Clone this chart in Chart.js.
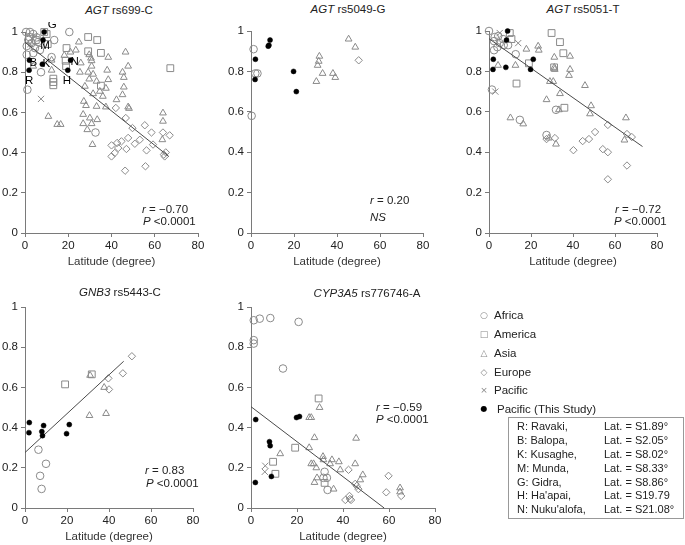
<!DOCTYPE html>
<html>
<head>
<meta charset="utf-8">
<script src="https://cdn.jsdelivr.net/npm/chart.js@4.4.1/dist/chart.umd.min.js"></script>
<style>
  body { margin: 0; background: #fff; }
  #wrap { position: relative; width: 685px; height: 545px; overflow: hidden; background: #fff;
          font-family: 'Liberation Sans', Arial, sans-serif; font-size: 11.5px; color: #222; }
  canvas { position: absolute; }
  .t { position: absolute; line-height: 14px; white-space: nowrap; }
  .c { transform: translateX(-50%); }
  .sym { position: absolute; width: 12px; text-align: center; line-height: 14px; color: #8a8a8a;
         font-family: 'DejaVu Sans', sans-serif; font-size: 9px; }
  #box { position: absolute; left: 508px; top: 417px; width: 176px; height: 102px; border: 1px solid #999;
         font-size: 11px; line-height: 13.9px; padding-top: 2px; box-sizing: border-box; color: #222; }
  #box div { position: relative; height: 13.9px; white-space: nowrap; }
  #box span { position: absolute; }
</style>
</head>
<body>
<div id="wrap">
  <canvas id="c1"></canvas>
  <canvas id="c2"></canvas>
  <canvas id="c3"></canvas>
  <canvas id="c4"></canvas>
  <canvas id="c5"></canvas>

  <div class="t c" style="left:119px;top:3px"><i>AGT</i> rs699-C</div>
  <div class="t c" style="left:348px;top:2px"><i>AGT</i> rs5049-G</div>
  <div class="t c" style="left:583px;top:2px"><i>AGT</i> rs5051-T</div>
  <div class="t c" style="left:120px;top:285px"><i>GNB3</i> rs5443-C</div>
  <div class="t c" style="left:367px;top:286px"><i>CYP3A5</i> rs776746-A</div>

  <div class="t" style="left:142px;top:202px"><i>r</i> = −0.70</div>
  <div class="t" style="left:143px;top:214px"><i>P</i> &lt;0.0001</div>
  <div class="t" style="left:370px;top:193px"><i>r</i> = 0.20</div>
  <div class="t" style="left:370px;top:210px"><i>NS</i></div>
  <div class="t" style="left:615px;top:202px"><i>r</i> = −0.72</div>
  <div class="t" style="left:614px;top:214px"><i>P</i> &lt;0.0001</div>
  <div class="t" style="left:145px;top:463px"><i>r</i> = 0.83</div>
  <div class="t" style="left:146px;top:476px"><i>P</i> &lt;0.0001</div>
  <div class="t" style="left:376px;top:400px"><i>r</i> = −0.59</div>
  <div class="t" style="left:376px;top:412px"><i>P</i> &lt;0.0001</div>

  <div id="legend"></div>
  <div id="box"></div>
</div>

<script>
const xTicks = [0, 20, 40, 60, 80];
const yTicks = [0, 0.2, 0.4, 0.6, 0.8, 1];
const yTickLabels = ['0', '0.2', '0.4', '0.6', '0.8', '1'];

// Pacific (this study): latitude of each population, same order everywhere
const studyCodes = ['R', 'B', 'K', 'M', 'G', 'H', 'N'];
const studyNames = ['Ravaki,', 'Balopa,', 'Kusaghe,', 'Munda,', 'Gidra,', "Ha'apai,", "Nuku'alofa,"];
const studyLatText = ['S1.89°', 'S2.05°', 'S8.02°', 'S8.33°', 'S8.86°', 'S19.79', 'S21.08°'];
const studyLat = [1.89, 2.05, 8.02, 8.33, 8.86, 19.79, 21.08];

// AGT rs699-C  [latitude, frequency]
const p1Study = [0.81, 0.86, 0.84, 0.96, 1.0, 0.81, 0.86];
const p1Africa = [[0.5, 1.0], [2.3, 1.0], [3.8, 0.99], [1.5, 0.96], [3.1, 0.945], [0.8, 0.93], [4.6, 0.92],
  [3.8, 0.895], [0.8, 0.887], [6.9, 0.91], [5.4, 0.973], [13.5, 0.96], [12.3, 0.875], [20.5, 1.0],
  [7.4, 0.80], [1.1, 0.713], [32.6, 0.50], [2.0, 0.975], [6.0, 0.95]];
const p1America = [[8.9, 1.0], [10, 0.99], [19.2, 0.92], [29.2, 0.975], [33.4, 0.96], [29.2, 0.904],
  [35.1, 0.896], [18.8, 0.857], [13.1, 0.768], [13.1, 0.751], [13.1, 0.735], [67.2, 0.82], [35.1, 0.733],
  [5, 0.96], [10.5, 0.94], [19, 0.83]];
const p1Asia = [[24.9, 0.95], [23.5, 0.91], [18.2, 0.884], [12.3, 0.86], [12.3, 0.81], [3.8, 0.83], [10.8, 0.58],
  [14.9, 0.54], [16.5, 0.54], [25.8, 0.846], [25.4, 0.80], [29.7, 0.887], [30.8, 0.857], [30.8, 0.83],
  [29.2, 0.80], [31.5, 0.79], [29.7, 0.766], [33.1, 0.755], [27.7, 0.73], [34.6, 0.705], [31.5, 0.693],
  [27.2, 0.655], [28.2, 0.634], [33.1, 0.63], [37.4, 0.627], [26.9, 0.59], [30, 0.572], [33.4, 0.564],
  [26.9, 0.544], [28.8, 0.514], [30.8, 0.544], [31.2, 0.44], [38.5, 0.874], [38, 0.81], [38.5, 0.763],
  [37.4, 0.72], [42.3, 0.663], [45.1, 0.688], [46.5, 0.90], [47.7, 0.83], [45.1, 0.80], [45.7, 0.774],
  [45.7, 0.726], [47.7, 0.627], [48.1, 0.62], [63.8, 0.597], [63.8, 0.556], [63.5, 0.464], [21, 0.90],
  [30.5, 0.87], [36, 0.68]];
const p1Europe = [[42, 0.622], [46.6, 0.572], [49.7, 0.522], [55.4, 0.536], [58.5, 0.50], [53.1, 0.464],
  [63.8, 0.50], [66.9, 0.486], [59.2, 0.44], [40, 0.436], [43.1, 0.423], [44.6, 0.456], [47.7, 0.473],
  [50.8, 0.444], [56.2, 0.411], [41.5, 0.398], [40, 0.381], [46.3, 0.31], [55.7, 0.332], [64.2, 0.39],
  [64.6, 0.381], [65.1, 0.401], [46.9, 0.418], [42.6, 0.448]];
const p1Pacific = [[7.4, 0.667], [4.5, 0.98], [2.5, 0.94]];
const p1Fit = [[0, 0.949], [66.5, 0.381]];

// AGT rs5049-G
const p2Study = [0.76, 0.86, 0.925, 0.93, 0.955, 0.80, 0.70];
const p2Africa = [[1.2, 0.91], [2.0, 0.79], [3.0, 0.79], [0.3, 0.58]];
const p2America = [];
const p2Asia = [[31.8, 0.875], [31.5, 0.85], [31, 0.83], [33.3, 0.79], [38.1, 0.79], [39.2, 0.77],
  [30.4, 0.75], [45.4, 0.96], [48.5, 0.92]];
const p2Europe = [[50.1, 0.855]];
const p2Pacific = [];

// AGT rs5051-T
const p3Study = [0.81, 0.86, 0.82, 0.955, 1.0, 0.81, 0.86];
const p3Africa = [[0, 1.0], [2.7, 0.97], [4.4, 0.975], [2.4, 0.95], [9.1, 0.93], [12.7, 0.885], [1.4, 0.71],
  [2.4, 0.905], [5.1, 0.94], [6.7, 0.96], [14.7, 0.56], [27.4, 0.485], [31.9, 0.61], [4, 0.92], [7, 0.93]];
const p3America = [[9.9, 0.99], [10.7, 0.96], [29.8, 0.99], [33.8, 0.945], [35.4, 0.89], [13.1, 0.74],
  [35.9, 0.62], [31, 0.82], [19, 0.84]];
const p3Asia = [[23.4, 0.925], [17.8, 0.91], [23.7, 0.905], [12.6, 0.83], [4.3, 0.83], [31.1, 0.87],
  [31.1, 0.82], [31.3, 0.81], [38.6, 0.875], [38.6, 0.81], [38.1, 0.78], [29, 0.75], [30.6, 0.75],
  [27.4, 0.66], [33.8, 0.69], [33.3, 0.61], [45.7, 0.73], [48.6, 0.63], [48.1, 0.59], [10.2, 0.57],
  [16.3, 0.54], [31.9, 0.44], [65.2, 0.57], [64.5, 0.46], [28.5, 0.47]];
const p3Europe = [[27.4, 0.465], [31.4, 0.47], [40.2, 0.41], [44.6, 0.455], [47.6, 0.465], [50.5, 0.50],
  [54.2, 0.415], [56.6, 0.40], [56.6, 0.535], [65.7, 0.49], [68, 0.475], [65.7, 0.334], [56.6, 0.266]];
const p3Pacific = [[5.1, 0.99], [13.9, 0.94], [3.0, 0.70]];
const p3Fit = [[0, 0.962], [73.1, 0.428]];

// GNB3 rs5443-C
const p4Study = [0.375, 0.425, 0.38, 0.36, 0.41, 0.37, 0.415];
const p4Africa = [[6.4, 0.29], [10, 0.22], [7.2, 0.16], [7.9, 0.095]];
const p4America = [[19.1, 0.615], [31.8, 0.665]];
const p4Asia = [[31, 0.66], [30.7, 0.46], [38.6, 0.47], [37.7, 0.60]];
const p4Europe = [[39.7, 0.645], [40, 0.59], [46.6, 0.67], [50.9, 0.755]];
const p4Pacific = [];
const p4Fit = [[0, 0.276], [47, 0.73]];

// CYP3A5 rs776746-A
const p5Study = [0.127, 0.44, 0.33, 0.31, 0.157, 0.45, 0.455];
const p5Africa = [[1.2, 0.934], [3.8, 0.942], [8.4, 0.945], [20.7, 0.926], [1.2, 0.835], [1.2, 0.818],
  [13.9, 0.694], [32, 0.18], [31.5, 0.15], [33, 0.15], [33.3, 0.09]];
const p5America = [[29.4, 0.545], [19.2, 0.30], [9.6, 0.23], [10.6, 0.17], [32, 0.125]];
const p5Asia = [[29.8, 0.50], [25.3, 0.45], [26.2, 0.45], [27.6, 0.35], [12.7, 0.27], [25.3, 0.30],
  [26.2, 0.22], [27.2, 0.22], [28.4, 0.20], [31.3, 0.256], [31.5, 0.24], [35.2, 0.24], [34.4, 0.22],
  [38.2, 0.23], [38.8, 0.19], [35.9, 0.094], [27.6, 0.127], [28.7, 0.15], [45.7, 0.347], [45.3, 0.22],
  [48.6, 0.165], [47.5, 0.14], [64.8, 0.10], [64.8, 0.08]];
const p5Europe = [[42.4, 0.19], [45.3, 0.12], [46.7, 0.094], [42.8, 0.06], [41, 0.04], [43, 0.045],
  [43.5, 0.04], [59.8, 0.16], [58.8, 0.078], [65.3, 0.06], [46, 0.11]];
const p5Pacific = [[6.2, 0.21], [6.0, 0.18]];
const p5Fit = [[0, 0.504], [57.9, 0]];

const grey = '#8a8a8a';
const axisCol = '#7a7a7a';
const YW = 25, PT = 10, PR = 12, XH = 38;

const kinds = {
  africa:  { pointStyle: 'circle',   pointRadius: 3.8 },
  america: { pointStyle: 'rect',     pointRadius: 4.8 },
  asia:    { pointStyle: 'triangle', pointRadius: 3.9 },
  europe:  { pointStyle: 'rectRot',  pointRadius: 3.7 },
  pacific: { pointStyle: 'crossRot', pointRadius: 4.4 }
};

const toXY = arr => arr.map(p => ({ x: p[0], y: p[1] }));

function group(arr, kind) {
  return Object.assign({
    data: toXY(arr),
    pointBorderColor: grey,
    pointBackgroundColor: 'rgba(0,0,0,0)',
    pointBorderWidth: 1,
    clip: false
  }, kinds[kind]);
}

// draws the population code letters next to the study points
const codeLabels = {
  id: 'codeLabels',
  afterDatasetsDraw(chart, args, opts) {
    if (!opts.codes) return;
    const ctx = chart.ctx;
    const meta = chart.getDatasetMeta(0);
    ctx.save();
    ctx.font = "11.5px 'Liberation Sans', Arial, sans-serif";
    ctx.fillStyle = '#000';
    ctx.textAlign = 'center';
    ctx.textBaseline = 'middle';
    meta.data.forEach((pt, i) => {
      const o = opts.offsets[i];
      ctx.fillText(opts.codes[i], pt.x + o[0], pt.y + o[1]);
    });
    ctx.restore();
  }
};

function panel(id, frame, study, africa, america, asia, europe, pacific, fit, codes) {
  const canvas = document.getElementById(id);
  canvas.width = frame.x1 - frame.x0 + YW + PR;
  canvas.height = frame.y1 - frame.y0 + PT + XH;
  canvas.style.left = (frame.x0 - YW) + 'px';
  canvas.style.top = (frame.y0 - PT) + 'px';

  const datasets = [{
    data: study.map((v, i) => ({ x: studyLat[i], y: v })),
    pointStyle: 'circle', pointRadius: 2.5,
    pointBackgroundColor: '#000', pointBorderColor: '#000', pointBorderWidth: 0.5, clip: false
  }];
  if (fit) {
    datasets.push({ data: toXY(fit), showLine: true, pointRadius: 0, borderColor: '#4a4a4a', borderWidth: 1, clip: false });
  }
  datasets.push(group(africa, 'africa'), group(america, 'america'), group(asia, 'asia'),
    group(europe, 'europe'), group(pacific, 'pacific'));

  const axisFont = { family: "'Liberation Sans', Arial, sans-serif", size: 11.5 };

  new Chart(canvas, {
    type: 'scatter',
    data: { datasets },
    plugins: codes ? [codeLabels] : [],
    options: {
      responsive: false,
      animation: false,
      devicePixelRatio: 1,
      layout: { padding: { top: PT, right: PR, left: 0, bottom: 0 } },
      plugins: {
        legend: { display: false },
        tooltip: { enabled: false },
        codeLabels: codes || {}
      },
      scales: {
        x: {
          type: 'linear', min: 0, max: 80,
          afterBuildTicks: s => { s.ticks = xTicks.map(v => ({ value: v })); },
          afterFit: s => { s.height = XH; },
          border: { color: axisCol, width: 1 },
          grid: { drawOnChartArea: false, tickLength: 4, color: axisCol },
          ticks: { color: '#222', font: axisFont, padding: 2, maxRotation: 0, callback: v => String(v) },
          title: { display: true, text: 'Latitude (degree)', color: '#333', font: axisFont, padding: { top: 0, bottom: 2 } }
        },
        y: {
          type: 'linear', min: 0, max: 1,
          afterBuildTicks: s => { s.ticks = yTicks.map(v => ({ value: v })); },
          afterFit: s => { s.width = YW; },
          border: { color: axisCol, width: 1 },
          grid: { drawOnChartArea: false, tickLength: 4, color: axisCol },
          ticks: { color: '#222', font: axisFont, padding: 3, callback: (v, i) => yTickLabels[i] }
        }
      }
    }
  });
}

panel('c1', { x0: 25, x1: 198, y0: 32, y1: 233 }, p1Study, p1Africa, p1America, p1Asia, p1Europe, p1Pacific, p1Fit,
  { codes: studyCodes, offsets: [[0, 11], [4, 3], [4, 0], [2, 6], [8, -7], [-1, 11], [4, 2]] });
panel('c2', { x0: 251, x1: 423, y0: 31, y1: 233 }, p2Study, p2Africa, p2America, p2Asia, p2Europe, p2Pacific, null, null);
panel('c3', { x0: 489, x1: 657, y0: 31, y1: 233 }, p3Study, p3Africa, p3America, p3Asia, p3Europe, p3Pacific, p3Fit, null);
panel('c4', { x0: 25, x1: 193, y0: 307, y1: 508 }, p4Study, p4Africa, p4America, p4Asia, p4Europe, p4Pacific, p4Fit, null);
panel('c5', { x0: 251, x1: 435, y0: 307, y1: 508 }, p5Study, p5Africa, p5America, p5Asia, p5Europe, p5Pacific, p5Fit, null);

// legend
const legendNames = ['Africa', 'America', 'Asia', 'Europe', 'Pacific', 'Pacific (This Study)'];
const legendSyms = ['○', '□', '△', '◇', '×', '●'];
const legendY = [315, 334, 353, 372, 390, 409];
const legend = document.getElementById('legend');
legendNames.forEach((name, i) => {
  const s = document.createElement('div');
  s.className = 'sym';
  s.textContent = legendSyms[i];
  s.style.left = '478px';
  s.style.top = (legendY[i] - 7) + 'px';
  if (i === 5) { s.style.color = '#000'; s.style.fontSize = '8px'; }
  legend.appendChild(s);
  const t = document.createElement('div');
  t.className = 't';
  t.textContent = name;
  t.style.left = (i === 5 ? 497 : 494) + 'px';
  t.style.top = (legendY[i] - 7) + 'px';
  legend.appendChild(t);
});

// code box
const box = document.getElementById('box');
studyCodes.forEach((c, i) => {
  const row = document.createElement('div');
  const a = document.createElement('span');
  a.style.left = '8px';
  a.textContent = c + ': ' + studyNames[i];
  const b = document.createElement('span');
  b.style.left = '95px';
  b.textContent = 'Lat. = ' + studyLatText[i];
  row.appendChild(a);
  row.appendChild(b);
  box.appendChild(row);
});
</script>
</body>
</html>
